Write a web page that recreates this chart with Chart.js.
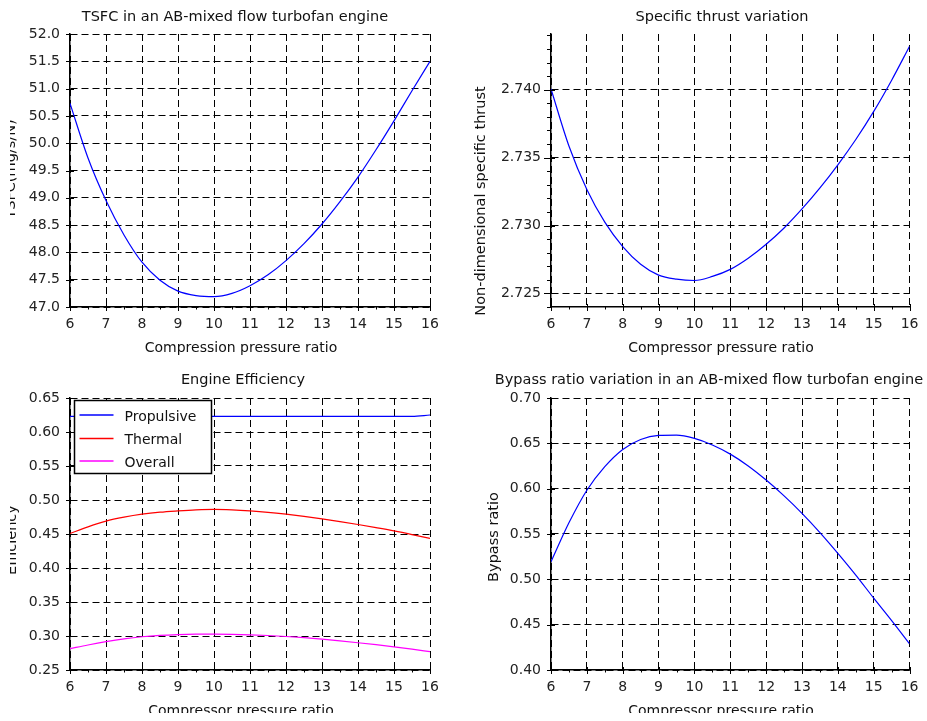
<!DOCTYPE html>
<html>
<head>
<meta charset="utf-8">
<script src="https://cdn.jsdelivr.net/npm/chart.js@4"></script>
<style>
  body { margin: 0; background: #fff; }
  canvas { position: absolute; }
  #tsfcChart { left: 0; top: 0; clip-path: inset(0 0 0 10px); }
  #thrustChart { left: 463px; top: 0; }
  #effChart { left: 0; top: 360px; clip-path: inset(0 0 8px 10px); }
  #bypassChart { left: 463px; top: 360px; clip-path: inset(0 0 8px 0); }
</style>
</head>
<body>
<canvas id="tsfcChart" width="463" height="360"></canvas>
<canvas id="thrustChart" width="464" height="360"></canvas>
<canvas id="effChart" width="463" height="361"></canvas>
<canvas id="bypassChart" width="464" height="361"></canvas>
<script>
// compressor pressure ratio (x for every plot)
const pressureRatio = [6, 6.5, 7, 7.5, 8, 8.5, 9, 9.5, 10, 10.5, 11, 11.5, 12, 12.5, 13, 13.5, 14, 14.5, 15, 15.5, 16];

const tsfc = [50.73, 49.73, 48.95, 48.32, 47.82, 47.49, 47.29, 47.21, 47.19, 47.25, 47.39,
              47.59, 47.85, 48.16, 48.52, 48.93, 49.38, 49.88, 50.41, 50.96, 51.50];

const specificThrust = [2.74005, 2.73585, 2.73265, 2.73025, 2.72845, 2.72715, 2.72635, 2.72605, 2.72595, 2.72625, 2.72677,
                        2.72759, 2.72862, 2.72982, 2.73122, 2.73277, 2.73447, 2.73633, 2.73840, 2.74070, 2.74320];

const propulsiveEff = [0.623, 0.623, 0.623, 0.623, 0.623, 0.623, 0.623, 0.623, 0.623, 0.623, 0.623,
                       0.623, 0.623, 0.623, 0.623, 0.623, 0.623, 0.623, 0.623, 0.623, 0.625];
const thermalEff = [0.4507, 0.4605, 0.4689, 0.4747, 0.4791, 0.4821, 0.4840, 0.4855, 0.4862, 0.4855, 0.4840,
                    0.4819, 0.4791, 0.4758, 0.4722, 0.4683, 0.4640, 0.4594, 0.4546, 0.4492, 0.4434];
const overallEff = [0.2813, 0.2868, 0.2917, 0.2958, 0.2989, 0.3009, 0.3021, 0.3027, 0.3028, 0.3025, 0.3018,
                    0.3007, 0.2993, 0.2975, 0.2953, 0.2928, 0.2901, 0.2872, 0.2840, 0.2806, 0.2769];

const bypassRatio = [0.5193, 0.5623, 0.5983, 0.6243, 0.6433, 0.6543, 0.6587, 0.6590, 0.6554, 0.6482, 0.6381,
                     0.6251, 0.6095, 0.5920, 0.5728, 0.5516, 0.5287, 0.5047, 0.4792, 0.4544, 0.4288];

const FONT = '"DejaVu Sans", sans-serif';

function pts(ys) {
    return pressureRatio.map((x, i) => ({ x: x, y: ys[i] }));
}

// scilab-like decorations: tick marks, titles, legend box
const sciPlugin = {
    id: 'sci',
    afterDatasetsDraw(chart, args, o) {
        const ctx = chart.ctx;
        const xs = chart.scales.x, ys = chart.scales.y;
        const a = chart.chartArea;
        ctx.save();
        ctx.strokeStyle = '#000';
        ctx.lineWidth = 1;
        ctx.beginPath();
        ys.ticks.forEach(t => {
            const py = Math.round(ys.getPixelForValue(t.value)) + 0.5;
            ctx.moveTo(a.left - o.yTickLen, py);
            ctx.lineTo(a.left + 4, py);
        });
        xs.ticks.forEach(t => {
            const px = Math.round(xs.getPixelForValue(t.value)) + 0.5;
            ctx.moveTo(px, a.bottom - 3);
            ctx.lineTo(px, a.bottom + 4);
        });
        for (let v = xs.min + 0.5; v < xs.max; v += 1) {
            const px = Math.round(xs.getPixelForValue(v)) + 0.5;
            ctx.moveTo(px, a.bottom);
            ctx.lineTo(px, a.bottom + 2.5);
        }
        if (o.yMinor) {
            const n = Math.round((ys.max - ys.min) / o.yMinor);
            for (let i = 0; i <= n; i++) {
                const v = Math.ceil(ys.min / o.yMinor) * o.yMinor + i * o.yMinor;
                if (v > ys.max + 1e-9) break;
                const py = Math.round(ys.getPixelForValue(v)) + 0.5;
                ctx.moveTo(a.left - 4, py);
                ctx.lineTo(a.left, py);
            }
        }
        ctx.stroke();
        ctx.restore();
    },
    afterDraw(chart, args, o) {
        const ctx = chart.ctx;
        ctx.save();
        ctx.fillStyle = '#111';
        ctx.textAlign = 'center';
        ctx.textBaseline = 'middle';
        ctx.font = '14.5px ' + FONT;
        ctx.fillText(o.title, o.titleX, o.titleY);
        ctx.font = '14px ' + FONT;
        ctx.fillText(o.xTitle, o.xTitleX, o.xTitleY);
        ctx.save();
        ctx.translate(o.yTitleX, o.yTitleY);
        ctx.rotate(-Math.PI / 2);
        ctx.font = '14.5px ' + FONT;
        ctx.fillText(o.yTitle, 0, 0);
        ctx.restore();

        if (o.legend) {
            const L = o.legend;
            ctx.fillStyle = '#fff';
            ctx.fillRect(L.x, L.y, L.w, L.h);
            ctx.strokeStyle = '#000';
            ctx.lineWidth = 1.5;
            ctx.strokeRect(L.x, L.y, L.w, L.h);
            ctx.textAlign = 'left';
            ctx.font = '14px ' + FONT;
            chart.data.datasets.forEach((ds, i) => {
                const ry = L.rows[i];
                ctx.strokeStyle = ds.borderColor;
                ctx.lineWidth = 1.5;
                ctx.beginPath();
                ctx.moveTo(L.x + 5, ry);
                ctx.lineTo(L.x + 39, ry);
                ctx.stroke();
                ctx.fillStyle = '#111';
                ctx.fillText(ds.label, L.x + 50, ry + 2);
            });
        }
        ctx.restore();
    }
};

function makeChart(id, datasets, yOpts, area, deco) {
    const ctx = document.getElementById(id).getContext('2d');
    return new Chart(ctx, {
        type: 'line',
        data: { datasets: datasets },
        plugins: [sciPlugin],
        options: {
            responsive: false,
            animation: false,
            devicePixelRatio: 1,
            layout: { padding: { top: area.top, right: area.right, left: 0, bottom: 0 } },
            elements: {
                point: { radius: 0 },
                line: { borderWidth: 1.2, cubicInterpolationMode: 'monotone' }
            },
            plugins: {
                legend: { display: false },
                tooltip: { enabled: false },
                sci: deco
            },
            scales: {
                x: {
                    type: 'linear',
                    min: 6,
                    max: 16,
                    ticks: {
                        stepSize: 1,
                        padding: 8.5,
                        color: '#222',
                        maxRotation: 0,
                        autoSkip: false,
                        font: { family: FONT, size: 14 }
                    },
                    grid: { color: '#000', lineWidth: 1, drawTicks: false },
                    border: { display: true, color: '#000', width: 1.5, dash: [7, 4] },
                    afterFit: s => { s.height = area.xH; }
                },
                y: {
                    min: yOpts.min,
                    max: yOpts.max,
                    ticks: {
                        stepSize: yOpts.step,
                        includeBounds: false,
                        padding: 10,
                        color: '#222',
                        font: { family: FONT, size: 14 },
                        callback: v => v.toFixed(yOpts.digits)
                    },
                    grid: { color: '#000', lineWidth: 1, drawTicks: false },
                    border: { display: true, color: '#000', width: 1.5, dash: [7, 4] },
                    afterFit: s => { s.width = area.yW; }
                }
            }
        }
    });
}

makeChart('tsfcChart',
    [{ label: 'TSFC', data: pts(tsfc), borderColor: '#0000ff' }],
    { min: 47, max: 52, step: 0.5, digits: 1 },
    { top: 34, right: 33, xH: 53, yW: 70 },
    {
        title: 'TSFC in an AB-mixed flow turbofan engine', titleX: 235, titleY: 17,
        xTitle: 'Compression pressure ratio', xTitleX: 241, xTitleY: 348,
        yTitle: 'TSFC(mg/s/N)', yTitleX: 11, yTitleY: 169,
        yTickLen: 4
    });

makeChart('thrustChart',
    [{ label: 'Specific thrust', data: pts(specificThrust), borderColor: '#0000ff' }],
    { min: 2.724, max: 2.7441, step: 0.005, digits: 3 },
    { top: 34, right: 17, xH: 53, yW: 88 },
    {
        title: 'Specific thrust variation', titleX: 259, titleY: 17,
        xTitle: 'Compressor pressure ratio', xTitleX: 258, xTitleY: 348,
        yTitle: 'Non-dimensional specific thrust', yTitleX: 18, yTitleY: 201,
        yTickLen: 7, yMinor: 0.001
    });

makeChart('effChart',
    [
        { label: 'Propulsive', data: pts(propulsiveEff), borderColor: '#0000ff' },
        { label: 'Thermal', data: pts(thermalEff), borderColor: '#ff0000' },
        { label: 'Overall', data: pts(overallEff), borderColor: '#ff00ff' }
    ],
    { min: 0.25, max: 0.65, step: 0.05, digits: 2 },
    { top: 38, right: 33, xH: 51, yW: 70 },
    {
        title: 'Engine Efficiency', titleX: 243, titleY: 20,
        xTitle: 'Compressor pressure ratio', xTitleX: 241, xTitleY: 351,
        yTitle: 'Efficiency', yTitleX: 12.5, yTitleY: 180,
        yTickLen: 4,
        legend: { x: 74.5, y: 40.5, w: 137, h: 73, rows: [55, 78.5, 101] }
    });

makeChart('bypassChart',
    [{ label: 'Bypass ratio', data: pts(bypassRatio), borderColor: '#0000ff' }],
    { min: 0.40, max: 0.70, step: 0.05, digits: 2 },
    { top: 38, right: 17, xH: 51, yW: 88 },
    {
        title: 'Bypass ratio variation in an AB-mixed flow turbofan engine', titleX: 246, titleY: 20,
        xTitle: 'Compressor pressure ratio', xTitleX: 258, xTitleY: 351,
        yTitle: 'Bypass ratio', yTitleX: 31, yTitleY: 177,
        yTickLen: 4
    });
</script>
</body>
</html>
